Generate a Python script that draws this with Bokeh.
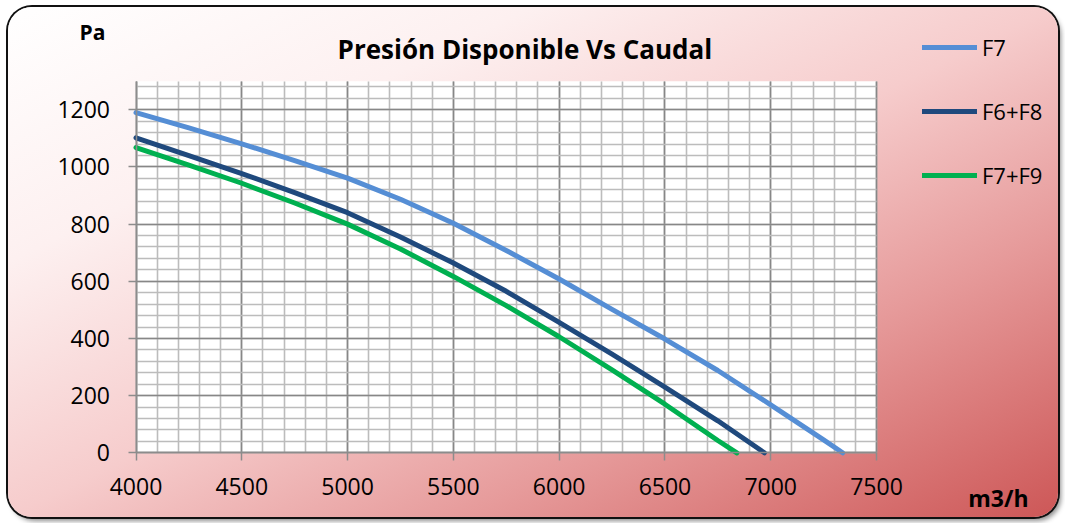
from bokeh.plotting import figure
from bokeh.models import FixedTicker, Label, Legend, LegendItem, Range1d, BoxAnnotation
from bokeh.embed import file_html
from bokeh.resources import INLINE

# ---- data ----
caudal_f7 = [4000, 4250, 4500, 4750, 5000, 5250, 5500, 5750, 6000, 6250, 6500, 6750, 7000, 7250, 7340]
pres_f7 = [1190, 1137, 1081, 1022, 961, 887, 803, 708, 608, 502, 398, 288, 168, 45, 0]

caudal_f6f8 = [4000, 4250, 4500, 4750, 5000, 5250, 5500, 5750, 6000, 6250, 6500, 6750, 6970]
pres_f6f8 = [1102, 1040, 977, 910, 840, 755, 664, 565, 456, 345, 230, 112, 0]

caudal_f7f9 = [4000, 4250, 4500, 4750, 5000, 5250, 5500, 5750, 6000, 6250, 6500, 6750, 6840]
pres_f7f9 = [1068, 1006, 943, 874, 800, 713, 617, 515, 406, 290, 170, 43, 0]

series_names = ["F7", "F6+F8", "F7+F9"]
series_colors = ["#558ed5", "#1f497d", "#00b050"]

x_min, x_max = 4000, 7500
y_min, y_max = 0, 1300
x_ticks = [4000, 4500, 5000, 5500, 6000, 6500, 7000, 7500]
y_ticks = [0, 200, 400, 600, 800, 1000, 1200]
x_minor = list(range(4000, 7501, 100))
y_minor = list(range(0, 1301, 40))

title_text = "Presión Disponible Vs Caudal"
y_unit = "Pa"
x_unit = "m3/h"

FONT = "Open Sans"

# canvas 1050 x 510; plot box from px 127.5..868 (x) and 73.7..445.3 (y)
W, H = 1050, 510
fl, fr, ft, fb = 127.5, 868.0, 73.7, 445.3
ux = (x_max - x_min) / (fr - fl)
uy = (y_max - y_min) / (fb - ft)
xr = Range1d(x_min - fl * ux, x_max + (W - fr) * ux)
yr = Range1d(y_min - (H - fb) * uy, y_max + ft * uy)

p = figure(width=W, height=H, output_backend="svg", toolbar_location=None,
           x_range=xr, y_range=yr, title_location=None,
           min_border=0, min_border_left=0, min_border_right=0, min_border_top=0, min_border_bottom=0)
p.margin = (7, 7, 6, 8)

p.border_fill_alpha = 0
p.background_fill_alpha = 0
p.outline_line_color = None
p.styles = {
    "background": "linear-gradient(to bottom right, #ffffff 0%, #fdf0f0 25%, #f6cccc 50%, #e69a9a 72%, #cd5757 100%)",
    "border-radius": "24px",
    "box-shadow": "0 0 0 2px #111111, 3px 4px 5px rgba(0,0,0,0.45)",
}

# white plot area
p.add_layout(BoxAnnotation(left=x_min, right=x_max, bottom=y_min, top=y_max,
                           fill_color="white", fill_alpha=1, line_color=None, level="image"))

# axes / grid
p.xaxis.ticker = FixedTicker(ticks=x_ticks, minor_ticks=x_minor)
p.yaxis.ticker = FixedTicker(ticks=y_ticks, minor_ticks=y_minor)
p.xaxis.fixed_location = y_min
p.yaxis.fixed_location = x_min
p.xaxis.bounds = (x_min, x_max)
p.yaxis.bounds = (y_min, y_max)
for ax in (p.xaxis[0], p.yaxis[0]):
    ax.axis_line_color = "#8c8c8c"
    ax.axis_line_width = 1.5
    ax.major_tick_line_color = "#8c8c8c"
    ax.major_tick_line_width = 1.5
    ax.major_tick_in = 0
    ax.major_tick_out = 8
    ax.minor_tick_in = 0
    ax.minor_tick_out = 0
    ax.major_label_text_font = FONT
    ax.major_label_text_font_size = "23px"
    ax.major_label_text_color = "#000000"
p.yaxis.major_label_standoff = 18
p.xaxis.major_label_standoff = 17

p.xgrid.bounds = (x_min, x_max)
p.xgrid.cross_bounds = (y_min, y_max)
p.ygrid.bounds = (y_min, y_max)
p.ygrid.cross_bounds = (x_min, x_max)
for g in (p.xgrid[0], p.ygrid[0]):
    g.grid_line_color = "#878787"
    g.grid_line_width = 1.6
    g.minor_grid_line_color = "#bcbcbc"
    g.minor_grid_line_width = 1.6

# series
xs = [caudal_f7, caudal_f6f8, caudal_f7f9]
ys = [pres_f7, pres_f6f8, pres_f7f9]
renderers = []
for x, y, c in zip(xs, ys, series_colors):
    r = p.line(x, y, line_color=c, line_width=5, line_cap="round", line_join="round")
    renderers.append(r)

legend = Legend(items=[LegendItem(label=n, renderers=[r]) for n, r in zip(series_names, renderers)],
                location=(914, 327))
legend.background_fill_alpha = 0
legend.border_line_color = None
legend.padding = 0
legend.margin = 0
legend.spacing = 34
legend.glyph_width = 55
legend.glyph_height = 30
legend.label_height = 30
legend.label_standoff = 5
legend.label_text_font = FONT
legend.label_text_font_size = "22px"
legend.label_text_color = "#000000"
p.add_layout(legend, "center")

# texts (positions in data units of the same scales)
p.add_layout(Label(x=5838, y=1411, text=title_text, text_font=FONT, text_font_style="bold",
                   text_font_size="26px", text_align="center", text_baseline="middle",
                   text_color="#000000"))
p.add_layout(Label(x=3794, y=1472, text=y_unit, text_font=FONT, text_font_style="bold",
                   text_font_size="21px", text_align="center", text_baseline="middle",
                   text_color="#000000"))
p.add_layout(Label(x=8076, y=-158, text=x_unit, text_font=FONT, text_font_style="bold",
                   text_font_size="23px", text_align="center", text_baseline="middle",
                   text_color="#000000"))

open("out.html", "w").write(file_html(p, INLINE))
